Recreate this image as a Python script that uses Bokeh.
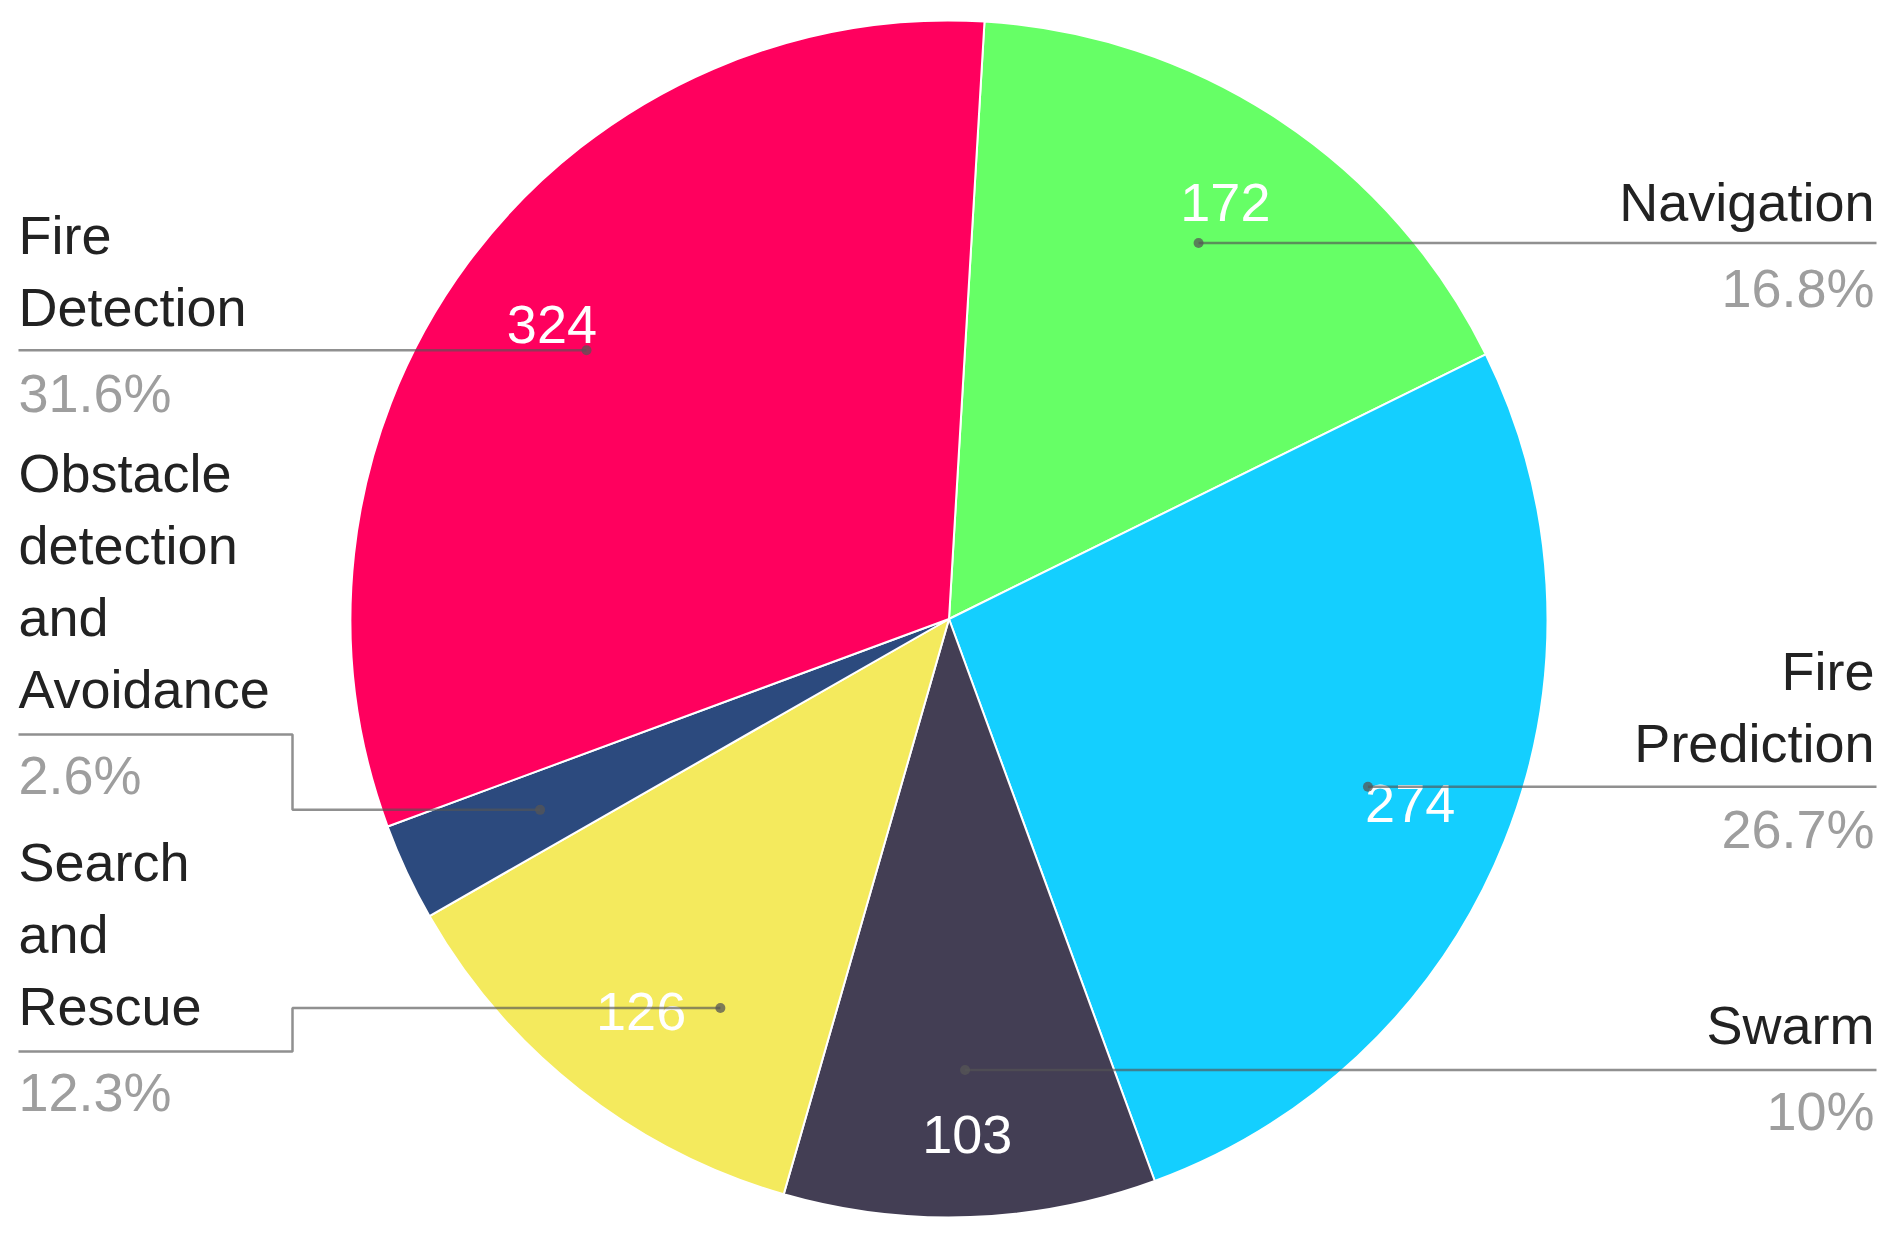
import math
from bokeh.plotting import figure
from bokeh.models import Range1d, ColumnDataSource
from bokeh.core.properties import value
from bokeh.embed import file_html
from bokeh.resources import INLINE

# ---------------- data ----------------
categories = ["Navigation", "Fire Prediction", "Swarm", "Search and Rescue",
              "Obstacle detection and Avoidance", "Fire Detection"]
counts = [172, 274, 103, 126, 27, 324]
colors = ["#66FF66", "#14CFFF", "#433E54", "#F4EA5D", "#2C4A7E", "#FF005E"]
name_lines = [["Navigation"], ["Fire", "Prediction"], ["Swarm"],
              ["Search", "and", "Rescue"],
              ["Obstacle", "detection", "and", "Avoidance"],
              ["Fire", "Detection"]]
show_value = [True, True, True, True, False, True]

# ---------------- layout (screen px of the 1899x1241 page) ----------------
W, H = 1883, 1225
CX, CY, R = 948.5, 618.5, 598.5
START_DEG = 3.4                      # clockwise from 12 o'clock
label_side = ["right", "right", "right", "left", "left", "left"]
label_line_y = [247, 788, 1070, 1051, 734, 352]
dot_angle_nudge = [0, 0, 0, -7.7, 0, 0]
value_r = [0.835, 0.83, 0.862, 0.833, 0.83, 0.826]
DOT_R = 0.754
LEFT_X, RIGHT_X = 18, 1876
ELBOW_X = 292
FONT = "Liberation Sans"
FS = "54px"
MID = 19          # distance from baseline to visual middle of glyphs


def sx(x):
    return x


def sy(y):
    return H - y


total = sum(counts)
pcts = []
for c in counts:
    s = f"{100.0 * c / total:.1f}"
    if s.endswith(".0"):
        s = s[:-2]
    pcts.append(s + "%")

# angles
starts, ends, mids = [], [], []
a = START_DEG
for c in counts:
    span = 360.0 * c / total
    starts.append(a)
    ends.append(a + span)
    mids.append(a + span / 2)
    a += span

p = figure(width=W, height=H, x_range=Range1d(0, W), y_range=Range1d(0, H),
           output_backend="svg", toolbar_location=None,
           x_axis_type=None, y_axis_type=None, min_border=0)
p.grid.visible = False
p.outline_line_color = None
p.background_fill_color = "white"
p.border_fill_color = "white"

wsrc = ColumnDataSource(dict(
    x=[sx(CX)] * len(counts), y=[sy(CY)] * len(counts),
    start=[math.radians(90 - e) for e in ends],
    end=[math.radians(90 - s) for s in starts],
    color=colors))
p.wedge(x="x", y="y", radius=R, start_angle="start", end_angle="end",
        fill_color="color", line_color="white", line_width=2, source=wsrc)

# value labels inside slices
vx, vy, vt = [], [], []
for i, c in enumerate(counts):
    if not show_value[i]:
        continue
    th = math.radians(mids[i])
    r = value_r[i] * R
    vx.append(sx(CX + r * math.sin(th)))
    vy.append(sy(CY - r * math.cos(th)))
    vt.append(str(c))
p.text(x=vx, y=vy, text=vt, text_color="white", text_font=value(FONT),
       text_font_size=FS, text_align="center", text_baseline="middle")

# leader lines, dots and labels
line_col = "#555555"
for i in range(len(counts)):
    th = math.radians(mids[i] + dot_angle_nudge[i])
    r = DOT_R * R
    dx = CX + r * math.sin(th)
    dy = CY - r * math.cos(th)
    ly = label_line_y[i]
    if label_side[i] == "right":
        xs = [dx, RIGHT_X]
        ys = [dy, dy]
    else:
        if abs(ly - dy) < 6:
            xs = [dx, LEFT_X]
            ys = [dy, dy]
        else:
            xs = [dx, ELBOW_X, ELBOW_X, LEFT_X]
            ys = [dy, dy, ly, ly]
    p.line([sx(x) for x in xs], [sy(y) for y in ys], line_color=line_col,
           line_alpha=0.65, line_width=2.5)
    p.scatter([sx(dx)], [sy(dy)], size=10, fill_color=line_col,
              line_color=None, fill_alpha=0.75)

    if label_side[i] == "right":
        tx, align = RIGHT_X - 2, "right"
    else:
        tx, align = LEFT_X, "left"
    lines = name_lines[i]
    n = len(lines)
    ty = [ly - 27 - 72 * (n - 1 - k) - MID for k in range(n)]
    p.text(x=[sx(tx)] * n, y=[sy(t) for t in ty], text=lines,
           text_color="#222222", text_font=value(FONT), text_font_size=FS,
           text_align=align, text_baseline="middle")
    p.text(x=[sx(tx)], y=[sy(ly + 59 - MID)], text=[pcts[i]],
           text_color="#9E9E9E", text_font=value(FONT), text_font_size=FS,
           text_align=align, text_baseline="middle")

open("out.html", "w").write(file_html(p, INLINE))
